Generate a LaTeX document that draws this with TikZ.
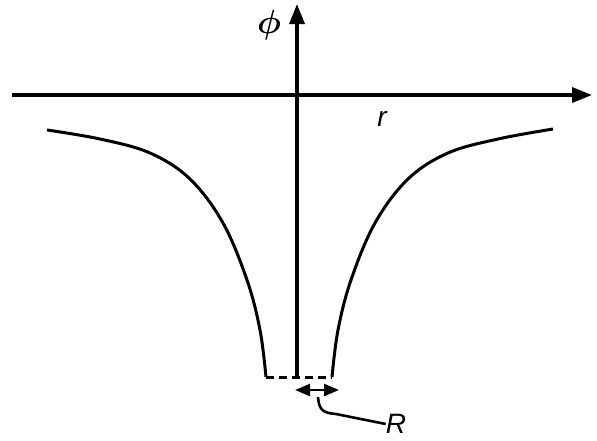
\documentclass[tikz,border=0pt]{standalone}
\usepackage{amsmath}
\usepackage{fontspec}
\setmainfont{Liberation Sans}
\usetikzlibrary{arrows.meta}

\begin{document}
\begin{tikzpicture}[x=1pt,y=-1pt,lbl/.style={font=\fontsize{28}{32}\selectfont\itshape,inner sep=0pt}]
  \useasboundingbox (0,0) rectangle (597,440);
  \coordinate (O) at (297,95); \coordinate (Xl) at (12,95); \coordinate (Xr) at (592,95);
  \coordinate (Yb) at (297,378); \coordinate (Yt) at (297,4);
  \coordinate (L) at (266,377); \coordinate (Rb) at (332,377);
  \coordinate (Ha) at (295,390); \coordinate (Hb) at (339,390); \coordinate (lead) at (318,397);
  \draw[line width=3.4pt,-{Triangle[length=20pt,width=15pt]}] (Xl)--(Xr);
  \draw[line width=3.4pt,-{Triangle[length=20pt,width=15pt]}] (Yb)--(Yt);
  \draw[line width=3pt] plot[smooth,tension=0.6] coordinates {(47,130) (100,139) (150,153) (190,179) (223,223) (247,280) (260,330) (266,377)};
  \draw[line width=3pt] plot[smooth,tension=0.6] coordinates {(332,377) (338,330) (351,280) (375,223) (408,179) (448,153) (498,139) (553,129)};
  \draw[line width=3pt,dash pattern=on 8pt off 5pt] (L)--(Rb);
  \draw[line width=2.6pt,{Triangle[length=15pt,width=12pt]}-{Triangle[length=15pt,width=12pt]}] (Ha)--(Hb);
  \node[lbl] (phil) at (269,25) {\scalebox{1.35}{$\boldsymbol{\phi}$}}; \node[lbl] (rl) at (382,119) {r}; \node[lbl] (Rl) at (396,424) {R};
  \draw[line width=2.6pt] (lead) .. controls (319,409) and (322,413) .. (336,414) -- (Rl.west);
\end{tikzpicture}
\end{document}
